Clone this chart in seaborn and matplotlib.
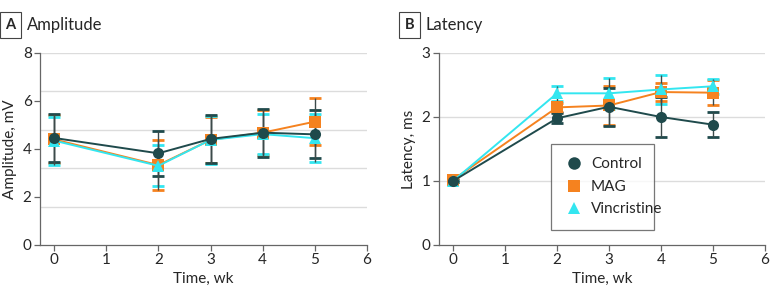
import numpy as np
import pandas as pd
import matplotlib
matplotlib.use("Agg")
import matplotlib.pyplot as plt
import seaborn as sns
from matplotlib.lines import Line2D

weeks = [0, 2, 3, 4, 5]
groups = ["Control", "MAG", "Vincristine"]

# Amplitude, mV (mean and error)
amp_control = [4.46, 3.82, 4.42, 4.68, 4.61]
amp_control_err = [1.0, 0.95, 1.0, 1.0, 1.0]
amp_mag = [4.40, 3.33, 4.38, 4.68, 5.14]
amp_mag_err = [1.0, 1.03, 0.95, 0.95, 0.98]
amp_vinc = [4.35, 3.30, 4.38, 4.62, 4.45]
amp_vinc_err = [1.0, 0.85, 1.0, 0.82, 1.0]

# Latency, ms (mean and error)
lat_control = [1.0, 1.98, 2.16, 2.0, 1.88]
lat_control_err = [0.02, 0.08, 0.3, 0.31, 0.2]
lat_mag = [1.02, 2.15, 2.18, 2.39, 2.38]
lat_mag_err = [0.03, 0.07, 0.3, 0.14, 0.2]
lat_vinc = [1.0, 2.37, 2.37, 2.43, 2.48]
lat_vinc_err = [0.02, 0.12, 0.24, 0.23, 0.12]

colors = {"Control": "#1f4a4c", "MAG": "#f5821f", "Vincristine": "#33e6f0"}
markers = {"Control": "o", "MAG": "s", "Vincristine": "^"}

sns.set_style("white")
plt.rcParams["font.family"] = ["Lato", "DejaVu Sans"]

def make_df(c, m, v, ce, me, ve):
    rows = []
    for g, vals, errs in [("Control", c, ce), ("MAG", m, me), ("Vincristine", v, ve)]:
        for w, y, e in zip(weeks, vals, errs):
            rows.append({"week": w, "value": y, "err": e, "group": g})
    return pd.DataFrame(rows)

amp = make_df(amp_control, amp_mag, amp_vinc, amp_control_err, amp_mag_err, amp_vinc_err)
lat = make_df(lat_control, lat_mag, lat_vinc, lat_control_err, lat_mag_err, lat_vinc_err)

fig = plt.figure(figsize=(7.83, 2.97), dpi=100)
axA = fig.add_axes([40 / 783, 1 - 245 / 297, 327 / 783, 192 / 297])
axB = fig.add_axes([439 / 783, 1 - 245 / 297, 326 / 783, 192 / 297])

def draw(ax, df, ylim, yticks, grid, ylabel, letter, title):
    for y in grid:
        ax.axhline(y, color="#dcdcdc", lw=1.0, zorder=0)
    for g in ["MAG", "Vincristine", "Control"]:
        d = df[df.group == g]
        # coloured caps, dark stem
        ax.errorbar(d.week, d.value, yerr=d.err, fmt="none", ecolor=colors[g],
                    elinewidth=0, capsize=4, capthick=2.0, zorder=2)
        ax.errorbar(d.week, d.value, yerr=d.err, fmt="none", ecolor="#3c4a4a",
                    elinewidth=1.0, capsize=0, zorder=2.1)
    sns.lineplot(data=df, x="week", y="value", hue="group", style="group",
                 hue_order=["MAG", "Vincristine", "Control"],
                 style_order=["MAG", "Vincristine", "Control"],
                 palette=colors, markers=markers, dashes=False, markersize=8,
                 markeredgewidth=0, linewidth=1.4, ax=ax, zorder=3, legend=False)
    ax.set_xlim(-0.27, 6)
    ax.set_ylim(*ylim)
    ax.set_xticks(range(7))
    ax.set_yticks(yticks)
    ax.set_xlabel("Time, wk", fontsize=11, labelpad=3)
    ax.set_ylabel(ylabel, fontsize=11, labelpad=4)
    for s in ["top", "right"]:
        ax.spines[s].set_visible(False)
    for s in ["left", "bottom"]:
        ax.spines[s].set_color("#666666")
        ax.spines[s].set_linewidth(0.9)
    ax.tick_params(axis="both", direction="out", length=4, width=0.9, color="#666666",
                   labelsize=11, pad=2, left=True, bottom=True)
    ax.text(-0.09, 1.145, letter, transform=ax.transAxes, fontsize=10.5, fontweight="bold",
            ha="center", va="center",
            bbox=dict(boxstyle="square,pad=0.4", fc="white", ec="#444444", lw=0.8))
    ax.text(-0.04, 1.145, title, transform=ax.transAxes, fontsize=12, ha="left", va="center")

draw(axA, amp, (0, 8), [0, 2, 4, 6, 8], [1.6, 3.2, 4.8, 6.4, 8], "Amplitude, mV", "A", "Amplitude")
draw(axB, lat, (0, 3), [0, 1, 2, 3], [1, 2, 3], "Latency, ms", "B", "Latency")

handles = [Line2D([], [], lw=0, marker=markers[g], color=colors[g], markersize=9,
                  markeredgewidth=0) for g in groups]
leg = axB.legend(handles, groups, loc="lower left", bbox_to_anchor=(0.344, 0.078, 0.316, 0.39),
                 mode="expand", frameon=True, fancybox=False, fontsize=11, borderaxespad=0,
                 handletextpad=0.5, borderpad=0.9, labelspacing=0.55, handlelength=1.2)
leg.get_frame().set_edgecolor("#555555")
leg.get_frame().set_linewidth(0.9)

fig.savefig("out.png", dpi=100)
